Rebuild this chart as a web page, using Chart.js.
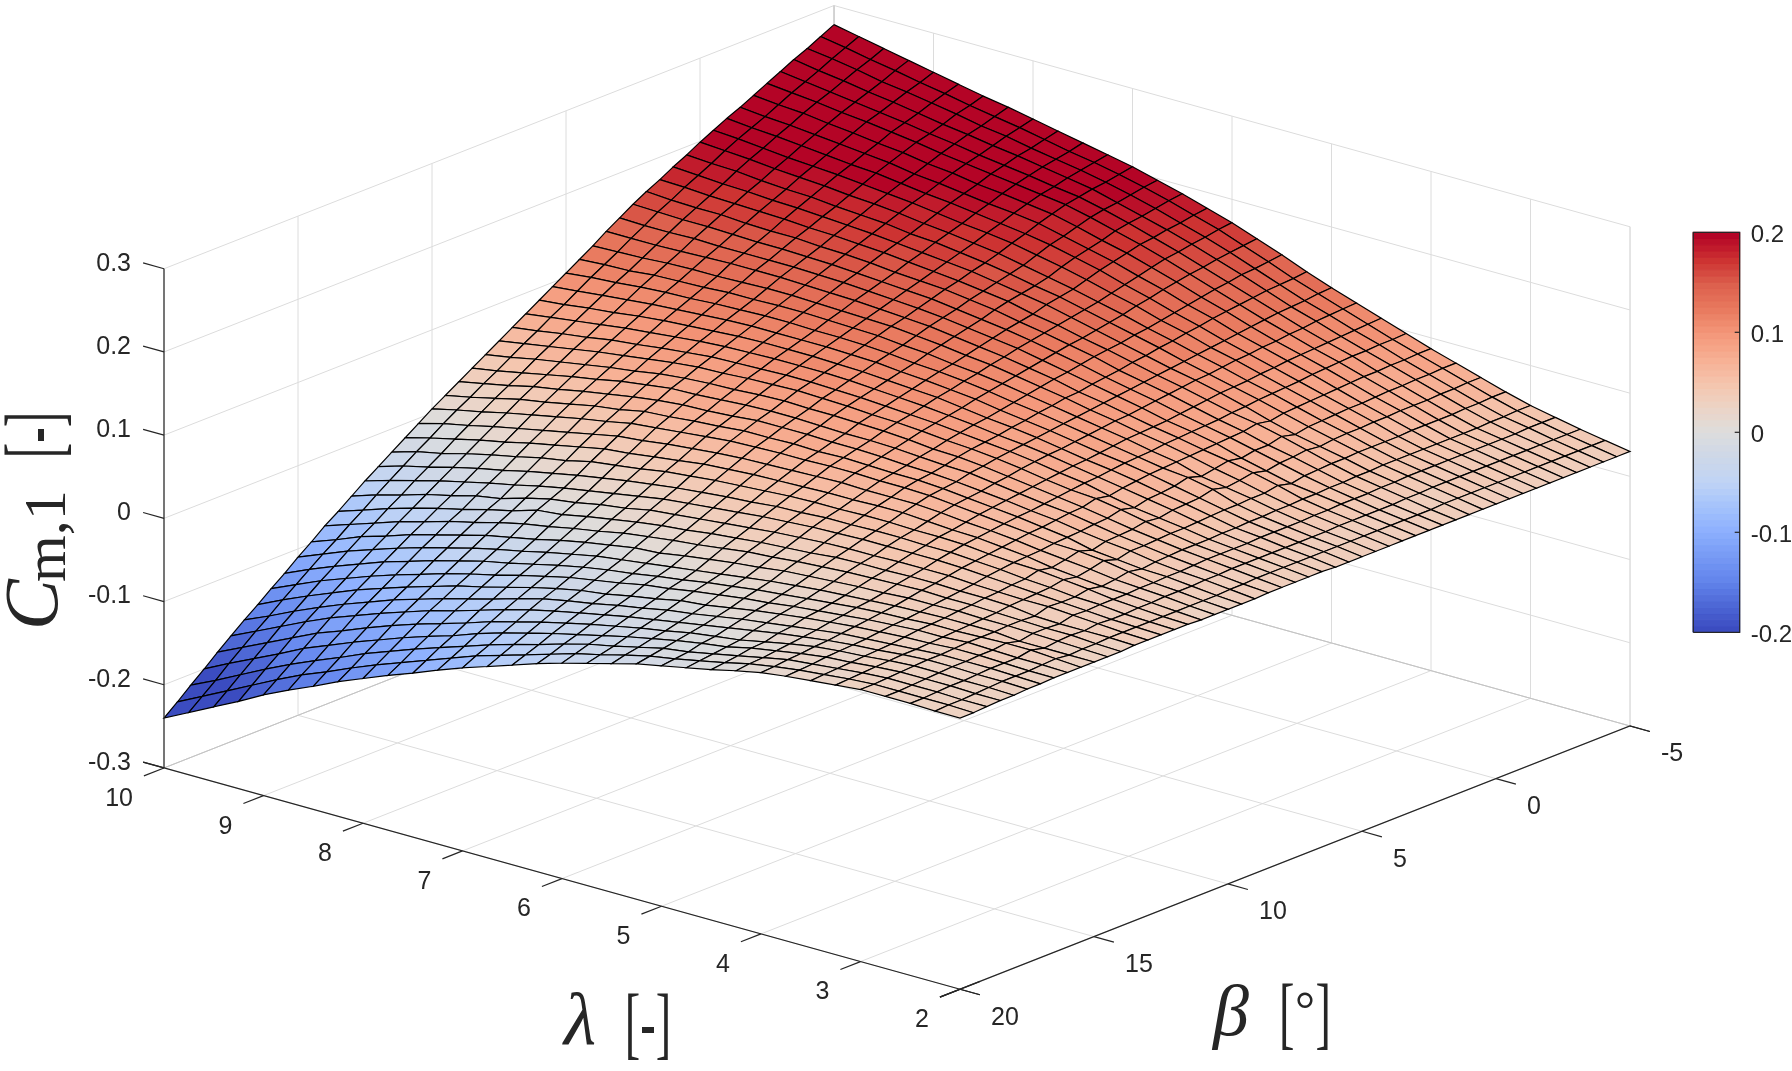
<!DOCTYPE html>
<html>
<head>
<meta charset="utf-8">
<title>Cm,1 surface</title>
<style>html,body{margin:0;background:#fff}canvas{display:block}</style>
<script src="https://cdn.jsdelivr.net/npm/chart.js@4"></script>
</head>
<body>
<canvas id="mycanvas" width="1792" height="1071"></canvas>
<script>
// tick values
var lambdaTicks = [10, 9, 8, 7, 6, 5, 4, 3, 2];
var betaTicks = [-5, 0, 5, 10, 15, 20];
var cmTicks = [-0.3, -0.2, -0.1, 0, 0.1, 0.2, 0.3];
var barTicks = [-0.2, -0.1, 0, 0.1, 0.2];

// surface grid
var lambdaGrid = [10, 9.75, 9.5, 9.25, 9, 8.75, 8.5, 8.25, 8, 7.75, 7.5, 7.25, 7, 6.75, 6.5, 6.25, 6, 5.75, 5.5, 5.25, 5, 4.75, 4.5, 4.25, 4, 3.75, 3.5, 3.25, 3, 2.75, 2.5, 2.25, 2];
var betaGrid = [-5, -4.5, -4, -3.5, -3, -2.5, -2, -1.5, -1, -0.5, 0, 0.5, 1, 1.5, 2, 2.5, 3, 3.5, 4, 4.5, 5, 5.5, 6, 6.5, 7, 7.5, 8, 8.5, 9, 9.5, 10, 10.5, 11, 11.5, 12, 12.5, 13, 13.5, 14, 14.5, 15, 15.5, 16, 16.5, 17, 17.5, 18, 18.5, 19, 19.5, 20];

// Cm,1 x 1000, one row per beta, columns follow lambdaGrid
var cmMilli = [
[277,271,265,259,253,247,241,236,230,224,218,212,206,198,190,181,172,161,150,138,127,117,107,97,87,78,69,60,52,46,40,35,30],
[269,264,258,253,247,242,236,231,226,220,214,209,203,196,188,179,170,159,148,136,126,116,106,96,87,78,69,60,52,46,40,35,30],
[261,257,252,246,242,237,232,226,222,216,211,206,200,193,185,176,167,157,146,135,124,115,105,96,86,77,68,59,51,46,40,35,30],
[254,249,245,240,236,231,226,222,217,213,208,203,198,190,182,174,165,155,145,134,123,114,104,95,86,77,68,59,51,45,40,35,30],
[246,242,238,234,230,226,221,217,212,208,204,199,195,188,180,171,162,152,142,132,122,112,103,95,85,76,67,58,50,45,40,35,30],
[238,235,232,228,225,221,217,212,208,204,200,196,192,185,177,169,160,150,140,130,120,111,102,94,85,76,67,58,50,45,40,35,30],
[230,227,225,221,218,214,211,206,203,198,195,191,187,180,172,165,156,147,137,128,118,109,101,93,84,75,67,58,50,45,40,35,30],
[222,219,217,214,211,208,205,200,197,193,189,186,182,175,168,161,152,144,134,126,116,108,100,92,83,74,66,58,50,45,40,35,30],
[215,212,210,207,204,201,199,195,191,188,184,180,176,171,164,157,148,140,131,123,114,106,98,90,82,74,66,57,50,45,40,35,30],
[207,205,202,199,197,195,192,189,186,182,178,175,171,165,159,152,144,137,128,121,112,105,97,89,81,73,65,57,50,45,40,35,30],
[199,197,195,192,190,188,185,183,180,176,173,169,165,159,153,147,140,133,125,118,110,103,95,88,80,72,65,57,50,45,40,35,30],
[190,188,187,184,182,181,178,176,174,170,168,164,160,155,149,144,137,130,123,116,108,101,94,87,79,71,64,57,50,45,40,35,30],
[182,180,178,177,175,174,172,170,168,165,162,159,156,151,146,141,134,127,120,113,106,100,93,85,76,68,62,56,49,44,39,35,30],
[173,172,170,169,168,167,165,164,162,160,157,154,151,147,143,136,131,124,118,111,104,98,91,84,79,72,64,56,49,44,39,34,30],
[165,163,162,162,160,159,159,157,156,154,151,149,147,143,139,133,128,122,116,108,102,96,89,82,76,68,62,55,48,43,38,34,30],
[156,155,154,154,153,152,152,151,150,148,146,144,142,138,134,130,125,119,113,106,100,94,87,81,75,68,61,54,48,43,38,34,30],
[146,145,145,146,145,145,145,145,144,143,141,139,137,134,130,126,122,116,110,104,98,92,85,80,74,65,58,51,47,43,38,34,30],
[136,136,136,137,138,139,139,139,138,137,136,134,132,130,126,122,118,113,108,101,96,90,84,79,73,68,62,55,47,42,38,34,30],
[125,126,127,129,130,130,131,132,132,131,130,129,128,125,122,118,115,110,105,100,94,89,83,78,72,65,59,52,46,42,38,34,30],
[115,117,118,121,122,123,125,125,126,126,125,124,123,120,118,114,111,107,102,97,92,87,82,76,71,62,57,52,46,41,37,34,30],
[105,108,110,113,115,116,118,119,120,120,119,119,118,116,113,111,108,104,99,95,90,85,80,75,70,67,61,51,45,41,37,34,30],
[95,98,101,104,107,109,111,113,114,114,114,114,113,112,109,107,104,101,96,92,88,83,78,74,69,63,57,51,45,41,37,34,30],
[85,88,92,95,99,102,104,106,108,109,109,109,108,107,105,103,101,97,93,90,86,81,76,72,67,61,56,50,44,41,37,34,30],
[75,79,83,87,91,94,97,100,102,103,104,104,104,103,101,99,97,94,91,87,84,80,75,70,65,60,55,49,44,40,37,34,31],
[65,69,74,78,83,86,90,93,96,97,98,99,99,98,97,95,93,91,88,85,82,78,73,69,62,56,52,48,43,40,37,34,31],
[55,60,65,70,75,79,83,87,90,91,93,94,95,94,93,91,90,88,85,83,80,76,71,67,65,60,54,48,43,40,37,34,31],
[45,50,56,61,66,71,75,80,83,85,86,88,89,88,88,87,86,84,81,80,77,73,69,65,61,56,51,47,43,40,37,34,31],
[35,40,46,52,58,63,69,73,77,78,80,82,83,83,82,81,81,80,78,76,75,71,67,63,60,55,50,46,42,39,36,33,31],
[25,31,37,44,49,55,60,65,69,72,73,75,78,78,78,77,77,76,74,73,71,68,65,61,58,53,49,46,41,38,36,33,30],
[15,21,28,35,40,46,52,56,62,64,67,69,72,72,73,72,73,72,71,71,69,66,63,60,56,52,45,42,39,38,35,32,30],
[5,12,18,25,31,37,43,48,54,57,60,63,66,67,68,68,69,69,68,68,67,64,61,58,55,51,50,47,42,37,35,32,30],
[-6,2,8,15,21,27,33,39,45,48,52,55,58,60,61,62,63,64,63,63,63,61,58,56,53,49,46,43,39,37,35,32,30],
[-17,-9,-2,5,11,18,24,30,36,39,43,47,51,53,55,56,57,58,58,59,59,57,55,54,51,48,43,40,37,36,34,32,30],
[-28,-19,-13,-5,2,8,15,20,27,31,35,40,43,46,48,50,52,53,53,54,54,53,53,52,49,47,46,43,40,36,34,32,31],
[-39,-30,-23,-15,-8,-2,5,11,17,22,27,31,35,38,41,43,46,47,49,49,50,50,49,49,47,45,42,40,37,36,33,32,31],
[-50,-41,-33,-25,-18,-11,-5,2,8,13,18,23,28,31,34,37,40,42,44,45,46,46,46,46,45,43,41,39,37,35,33,32,31],
[-62,-52,-44,-35,-28,-20,-15,-6,1,5,11,15,21,24,27,30,33,36,38,40,41,41,42,42,42,40,39,38,38,36,34,32,31],
[-74,-64,-54,-45,-37,-30,-22,-15,-6,-3,3,8,13,17,20,24,27,30,32,34,37,38,38,39,39,38,38,37,33,32,32,32,31],
[-85,-75,-65,-55,-47,-38,-31,-23,-16,-11,-5,0,6,10,14,17,21,25,27,30,32,34,35,36,37,36,36,35,34,33,33,31,30],
[-98,-87,-75,-66,-56,-48,-40,-32,-26,-20,-13,-7,-2,3,5,10,14,18,21,25,27,29,31,32,34,34,35,34,34,33,32,31,30],
[-110,-98,-86,-76,-66,-57,-49,-41,-34,-28,-21,-15,-9,-5,-1,3,7,11,15,19,22,25,27,29,31,32,33,33,33,30,30,30,30],
[-123,-110,-98,-87,-76,-67,-58,-50,-42,-36,-29,-22,-16,-11,-7,-2,2,7,11,15,18,21,24,27,29,30,32,32,33,34,34,32,30],
[-135,-122,-109,-98,-87,-77,-68,-59,-51,-44,-36,-29,-22,-17,-12,-6,-2,3,7,11,14,18,21,24,27,29,31,31,33,32,31,31,30],
[-148,-134,-121,-109,-97,-87,-77,-68,-59,-52,-44,-36,-29,-23,-19,-13,-8,-2,1,6,11,15,19,22,25,27,29,30,32,32,31,30,30],
[-160,-147,-133,-120,-108,-97,-86,-77,-68,-60,-52,-43,-35,-29,-24,-18,-13,-7,-3,2,7,11,15,19,23,25,27,29,31,31,31,30,29],
[-173,-159,-145,-131,-118,-107,-96,-86,-76,-68,-59,-50,-42,-35,-29,-23,-17,-12,-7,-2,3,8,13,17,21,24,26,29,31,31,30,30,29],
[-186,-172,-158,-144,-130,-119,-107,-96,-86,-77,-68,-58,-50,-42,-35,-28,-22,-16,-11,-5,-1,3,9,15,20,23,25,28,30,30,29,29,28],
[-200,-185,-171,-157,-142,-130,-118,-107,-96,-86,-77,-66,-57,-49,-41,-34,-27,-20,-14,-8,-3,1,8,13,18,22,24,27,29,29,29,28,28],
[-213,-199,-184,-169,-155,-142,-130,-117,-106,-95,-85,-75,-65,-56,-48,-39,-31,-25,-18,-11,-7,-1,5,11,17,20,23,26,28,28,28,27,27],
[-227,-212,-197,-182,-167,-153,-141,-128,-116,-105,-94,-83,-72,-63,-54,-45,-36,-29,-21,-14,-9,-3,3,10,15,19,22,25,27,27,27,27,26],
[-240,-225,-210,-195,-179,-165,-152,-138,-126,-114,-103,-91,-80,-70,-60,-50,-41,-33,-25,-17,-11,-5,1,8,14,18,21,24,27,27,27,26,26]
];

// coolwarm colour stops, evenly spaced from -0.2 to 0.2
var colorStops = [[59,76,192],[78,104,214],[99,133,236],[120,155,245],[141,176,254],[165,195,252],[192,212,245],[205,215,232],[221,221,221],[236,212,198],[245,196,173],[247,175,147],[244,152,122],[232,122,95],[221,96,77],[205,50,50],[180,4,38]];
var colorLevels = 64;

var textColor = '#262626';
var gridColor = '#dcdcdc';
var edgeColor = '#c2c2c2';
var axisColor = '#262626';

// view of the 3d box on the page
var view = {originX: 834, originY: 504.7, lambdaX: 99.5, lambdaY: 27.66, betaX: -26.8, betaY: 10.53, cmY: 832};
var bar = {left: 1693.3, right: 1739.7, zero: 432.3, unit: 1000};

function project(lambda, beta, cm){
	var dl = 10 - lambda;
	var db = beta + 5;
	return {
		x: view.originX + dl * view.lambdaX + db * view.betaX,
		y: view.originY + dl * view.lambdaY + db * view.betaY - (cm + 0.3) * view.cmY
	};
}

function colorFor(v){
	var u = (Math.min(0.2, Math.max(-0.2, v)) + 0.2) / 0.4;
	u = Math.min(colorLevels - 1, Math.floor(u * colorLevels)) / (colorLevels - 1);
	var p = u * (colorStops.length - 1);
	var k = Math.min(colorStops.length - 2, Math.floor(p));
	var f = p - k;
	var a = colorStops[k], b = colorStops[k + 1];
	return 'rgb(' + Math.round(a[0] + (b[0] - a[0]) * f) + ',' + Math.round(a[1] + (b[1] - a[1]) * f) + ',' + Math.round(a[2] + (b[2] - a[2]) * f) + ')';
}

var paintList = [];

function addLine(points, color, width){
	paintList.push({data: points, showLine: true, fill: false, borderColor: color, borderWidth: width, pointRadius: 0, tension: 0});
}
function addShape(points, fillColor, color, width){
	paintList.push({data: points, showLine: true, fill: 'shape', backgroundColor: fillColor, borderColor: color, borderWidth: width, borderJoinStyle: 'miter', pointRadius: 0, tension: 0});
}

// walls and floor
var i, j;
for(i = 0; i < lambdaTicks.length; i++){
	var l = lambdaTicks[i];
	addLine([project(l, 20, -0.3), project(l, -5, -0.3), project(l, -5, 0.3)], gridColor, 1);
}
for(i = 0; i < betaTicks.length; i++){
	var b = betaTicks[i];
	addLine([project(2, b, -0.3), project(10, b, -0.3), project(10, b, 0.3)], gridColor, 1);
}
for(i = 0; i < cmTicks.length; i++){
	var c = cmTicks[i];
	addLine([project(2, -5, c), project(10, -5, c), project(10, 20, c)], gridColor, 1);
}
addLine([project(10, 20, -0.3), project(10, -5, -0.3), project(2, -5, -0.3)], edgeColor, 1);
addLine([project(10, -5, -0.3), project(10, -5, 0.3)], edgeColor, 1);
addLine([project(2, -5, -0.3), project(2, -5, 0.3)], gridColor, 1);

// surface, far corner first
for(j = 0; j < betaGrid.length - 1; j++){
	for(i = 0; i < lambdaGrid.length - 1; i++){
		var z00 = cmMilli[j][i] / 1000, z01 = cmMilli[j][i + 1] / 1000;
		var z10 = cmMilli[j + 1][i] / 1000, z11 = cmMilli[j + 1][i + 1] / 1000;
		var p = project(lambdaGrid[i], betaGrid[j], z00);
		addShape([
			p,
			project(lambdaGrid[i + 1], betaGrid[j], z01),
			project(lambdaGrid[i + 1], betaGrid[j + 1], z11),
			project(lambdaGrid[i], betaGrid[j + 1], z10),
			p
		], colorFor((z00 + z01 + z10 + z11) / 4), '#000000', 1.2);
	}
}

// axes and ticks
addLine([project(10, 20, -0.3), project(10, 20, 0.3)], axisColor, 1.2);
addLine([project(10.21, 20, -0.3), project(10, 20, -0.3), project(1.8, 20, -0.3)], axisColor, 1.2);
addLine([project(2, 19.25, -0.3), project(2, 20.75, -0.3)], axisColor, 1.2);
addLine([project(2, 20.75, -0.3), project(2, -5, -0.3), project(1.8, -5, -0.3)], axisColor, 1.2);
for(i = 0; i < cmTicks.length; i++){
	addLine([project(10, 20, cmTicks[i]), project(10.21, 20, cmTicks[i])], axisColor, 1.2);
}
for(i = 0; i < lambdaTicks.length; i++){
	addLine([project(lambdaTicks[i], 20, -0.3), project(lambdaTicks[i], 20.75, -0.3)], axisColor, 1.2);
}
for(i = 0; i < betaTicks.length; i++){
	addLine([project(2, betaTicks[i], -0.3), project(1.8, betaTicks[i], -0.3)], axisColor, 1.2);
}

// colour bar
function barY(v){ return bar.zero - v * bar.unit; }
for(i = 0; i < colorLevels; i++){
	var v0 = -0.2 + 0.4 * i / colorLevels;
	var v1 = -0.2 + 0.4 * (i + 1) / colorLevels;
	var band = colorFor((v0 + v1) / 2);
	addShape([
		{x: bar.left, y: barY(v0)}, {x: bar.right, y: barY(v0)},
		{x: bar.right, y: barY(v1)}, {x: bar.left, y: barY(v1)}, {x: bar.left, y: barY(v0)}
	], band, band, 1);
}
addLine([
	{x: bar.left, y: barY(-0.2)}, {x: bar.right, y: barY(-0.2)},
	{x: bar.right, y: barY(0.2)}, {x: bar.left, y: barY(0.2)}, {x: bar.left, y: barY(-0.2)}
], axisColor, 1.2);
for(i = 1; i < barTicks.length - 1; i++){
	addLine([{x: bar.right, y: barY(barTicks[i])}, {x: bar.right - 5, y: barY(barTicks[i])}], axisColor, 1.2);
}

var sans = '"Liberation Sans"';
var serif = '"Liberation Serif"';

function put(ctx, str, x, y, font, align, squeeze){
	ctx.save();
	ctx.translate(x, y);
	if(squeeze) ctx.scale(squeeze, 1);
	ctx.font = font;
	ctx.textAlign = align;
	ctx.fillText(str, 0, 0);
	ctx.restore();
}

var labelPlugin = {
	id: 'labels',
	afterDatasetsDraw: function(chart){
		var ctx = chart.ctx;
		var sx = chart.scales.x, sy = chart.scales.y;
		function at(p, dx, dy){ return {x: sx.getPixelForValue(p.x) + dx, y: sy.getPixelForValue(p.y) + dy}; }
		ctx.save();
		ctx.fillStyle = textColor;
		ctx.textBaseline = 'middle';
		var q, n;
		for(n = 0; n < cmTicks.length; n++){
			q = at(project(10, 20, cmTicks[n]), -33, -5);
			put(ctx, String(cmTicks[n]), q.x, q.y, '25px ' + sans, 'right');
		}
		for(n = 0; n < lambdaTicks.length; n++){
			q = at(project(lambdaTicks[n], 20, -0.3), -31, 31);
			put(ctx, String(lambdaTicks[n]), q.x, q.y, '25px ' + sans, 'right');
		}
		for(n = 0; n < betaTicks.length; n++){
			q = at(project(2, betaTicks[n], -0.3), 31, 28.5);
			put(ctx, String(betaTicks[n]), q.x, q.y, '25px ' + sans, 'left');
		}
		for(n = 0; n < barTicks.length; n++){
			put(ctx, String(barTicks[n]), sx.getPixelForValue(1750.7), sy.getPixelForValue(barY(barTicks[n]) + 3), '24px ' + sans, 'left');
		}

		ctx.textBaseline = 'alphabetic';
		put(ctx, 'λ', 580, 1044, 'italic 74px ' + serif, 'center');
		put(ctx, '[-]', 648, 1048.5, '80px ' + serif, 'center', 0.58);
		put(ctx, 'β', 1231, 1035, 'italic 72px ' + serif, 'center');
		put(ctx, '[', 1279, 1039, '80px ' + serif, 'left', 0.58);
		put(ctx, '°', 1305, 1026, '50px ' + serif, 'center');
		put(ctx, ']', 1331, 1039, '80px ' + serif, 'right', 0.58);

		ctx.save();
		ctx.translate(57, 630);
		ctx.rotate(-Math.PI / 2);
		put(ctx, 'C', 0, 0, 'italic 76px ' + serif, 'left');
		put(ctx, 'm,1', 48, 8, '60px ' + serif, 'left');
		ctx.restore();
		ctx.save();
		ctx.translate(59.5, 435);
		ctx.rotate(-Math.PI / 2);
		put(ctx, '[-]', 0, 0, '80px ' + serif, 'center', 0.58);
		ctx.restore();
		ctx.restore();
	}
};

// chart.js paints the first dataset last
var ctx = document.getElementById('mycanvas');
var surfaceChart = new Chart(ctx, {
	type: 'scatter',
	data: {datasets: paintList.slice().reverse()},
	options: {
		responsive: false,
		animation: false,
		events: [],
		layout: {padding: 0},
		plugins: {legend: {display: false}, tooltip: {enabled: false}, title: {display: false}},
		scales: {
			x: {type: 'linear', display: false, min: 0, max: 1792},
			y: {type: 'linear', display: false, min: 0, max: 1071, reverse: true}
		}
	},
	plugins: [labelPlugin]
});
</script>
</body>
</html>
